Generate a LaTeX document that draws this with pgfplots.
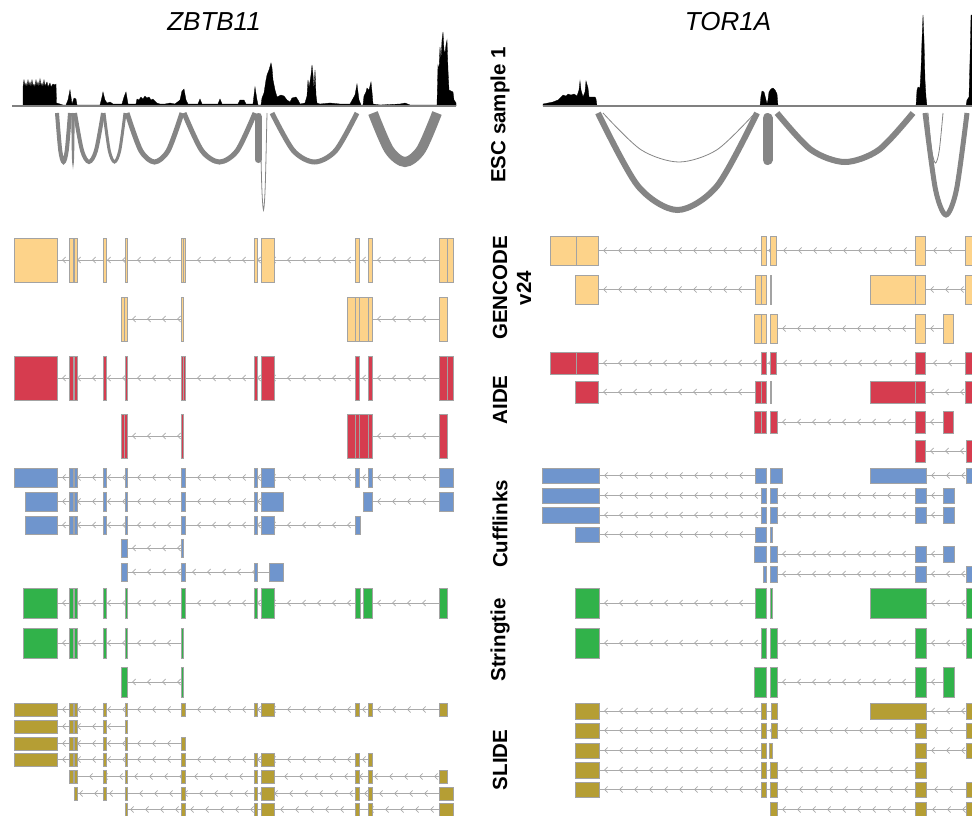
\documentclass[border=0pt]{standalone}
\usepackage{fontspec}
\setmainfont{Liberation Sans}
\usepackage{pgfplots}
\pgfplotsset{compat=1.18}
\usetikzlibrary{decorations.markings,arrows.meta}
\definecolor{gen}{HTML}{FDD38A}
\definecolor{aide}{HTML}{D63C4F}
\definecolor{cuff}{HTML}{6F95CD}
\definecolor{strg}{HTML}{31B24A}
\definecolor{slide}{HTML}{B59E34}
\definecolor{exb}{HTML}{A3A3A3}
\definecolor{intr}{HTML}{AAAAAA}
\definecolor{arcc}{HTML}{858585}
\tikzset{intronline/.style={draw=intr, line width=0.9pt, postaction={decorate},
  decoration={markings, mark=between positions 9pt and 1 step 15pt with {\arrow{Straight Barb[reversed,length=3pt,width=6pt,line width=0.8pt]}}}}}
\newcommand\rs[3]{\def\T{#1}\def\B{#2}\def\C{#3}\pgfmathsetmacro\M{(#1+#2)/2}}
\newcommand\xo[2]{\edef\tmp{\noexpand\addplot[fill=\C,draw=exb,line width=0.9pt] coordinates {(#1,\T) (#2,\T) (#2,\B) (#1,\B)} -- cycle;}\tmp}
\newcommand\il[2]{\edef\tmp{\noexpand\addplot[intronline] coordinates {(#1,\M) (#2,\M)};}\tmp}
\begin{document}
\begin{tikzpicture}
\begin{axis}[x=1pt,y=1pt,xmin=0,xmax=972,ymin=0,ymax=815,y dir=reverse,
  axis line style={draw=none},xtick=\empty,ytick=\empty,clip=true]
\addplot[draw=none] coordinates {(0,0) (972,815)};
% coverage left
\addplot[fill=black,draw=black,line width=0.3pt] coordinates {
(12,106) (23,106) (23,87) (24,80) (25,86) (26,83) (27,87) (28,80) (29,86) (30,82) (31,87) (32,80) (33,86) (34,84) (35,87) (36,80) (37,86) (38,82) (39,87) (40,79) (41,86) (42,83) (43,87) (44,80) (45,86) (47,82) (48,87) (50,83) (51,87) (53,84) (55,85) (56,84) (56.5,103) (60,104) (63,105) (66,105) (68,100) (70,90) (71,97) (72,104) (74,98) (76,99) (77,105) (100,105) (102,97) (103,92) (105,100) (107,103) (110,102) (113,104) (122,104) (124,97) (126,92) (128,104) (136,104) (137,99) (139,100) (141,97) (143,99) (145,96) (147,98) (149,97) (151,100) (153,99) (155,101) (157,103) (160,104) (165,104) (170,103) (175,104) (180,100) (182,91) (184,89) (186,100) (188,104) (198,104) (200,99) (202,104) (218,104) (220,99) (222,104) (238,104) (240,100) (244,100) (246,104) (253,104) (255,87) (257,100) (258,105) (261,105) (262,98) (264,93) (266,80) (267,75) (269,70) (271,63) (272,68) (273,80) (275,90) (277,97) (279,96) (281,95) (284,96) (287,100) (290,102) (292,98) (296,97) (298,100) (300,104) (305,103) (307,96) (308,80) (309,88) (311,75) (312,65) (313,75) (314,90) (315,70) (316,95) (317,103) (320,104) (330,103) (340,104) (350,104) (355,95) (357,84) (359,100) (361,105) (363,105) (364,96) (366,92) (367,88) (369,90) (371,82) (372,92) (373,104) (380,105) (400,104) (405,103) (410,105) (437,105) (438,65) (439,70) (440,47) (441,60) (442,40) (443,32) (444,50) (445,53) (446,45) (447,40) (448,70) (449,90) (451,91) (453,92) (454,100) (456,103) (456,106)} -- cycle;
% coverage right
\addplot[fill=black,draw=black,line width=0.3pt] coordinates {
(543,106) (543,104) (548,103) (553,102) (558,100) (561,97) (563,95) (566,96) (568,94) (571,95) (574,94) (577,96) (579,90) (580,81) (581,90) (583,97) (585,92) (586,81) (588,88) (589,97) (592,97) (595,97) (596,99) (597,106) (760,106) (761,96) (762,91) (764,92) (766,100) (767,104) (768,100) (769,92) (771,89) (773,88) (775,90) (777,94) (778,106) (916,106) (917,90) (918,87) (920,88) (921,70) (922,40) (923,15) (924,40) (925,80) (926,97) (927,106) (966,106) (967,100) (969,97) (970,60) (971,15) (975,15) (975,106)} -- cycle;
\addplot[draw=gray,line width=1.2pt] coordinates {(12,106) (456,106)};
\addplot[draw=gray,line width=1.2pt] coordinates {(543,106) (975,106)};
% arcs left
\addplot[arcc,line width=4pt,smooth] coordinates {(57,113) (60.25,150.5) (63.5,162) (66.75,150.5) (70,113)};
\addplot[arcc,line width=1.5pt,smooth] coordinates {(72,113) (72.5,150.5) (73,163) (73.5,150.5) (74,113)};
\addplot[arcc,line width=4pt,smooth] coordinates {(75,113) (82,150.5) (89,162) (96,150.5) (103,113)};
\addplot[arcc,line width=3pt,smooth] coordinates {(104,113) (109.25,150.5) (114.5,162) (119.75,150.5) (125,113)};
\addplot[arcc,line width=5pt,smooth] coordinates {(127,113) (140.75,150.5) (154.5,162) (168.25,150.5) (182,113)};
\addplot[arcc,line width=5pt,smooth] coordinates {(184,113) (201.75,150.5) (219.5,162) (237.25,150.5) (255,113)};
\addplot[arcc,line width=0.8pt,smooth] coordinates {(260,113) (261.75,185.75) (263.5,210) (265.25,185.75) (267,113)};
\addplot[arcc,line width=7pt,line cap=round] coordinates {(258,116.5) (258,159.5)};
\addplot[arcc,line width=5pt,smooth] coordinates {(272,113) (293.25,150.5) (314.5,162) (335.75,150.5) (357,113)};
\addplot[arcc,line width=10pt,smooth] coordinates {(373,113) (389,149.75) (405,162) (421,149.75) (437,113)};
% arcs right
\addplot[arcc,line width=6pt,smooth] coordinates {(598,113) (637.75,185.75) (677.5,210) (717.25,185.75) (757,113)};
\addplot[arcc,line width=0.8pt,smooth] coordinates {(603,113) (641,149.75) (679,162) (717,149.75) (755,113)};
\addplot[arcc,line width=10pt,line cap=round] coordinates {(767.5,118) (767.5,160)};
\addplot[arcc,line width=6pt,smooth] coordinates {(777,113) (811,149.75) (845,162) (879,149.75) (913,113)};
\addplot[arcc,line width=0.8pt,smooth] coordinates {(928,113) (931.75,150.5) (935.5,163) (939.25,150.5) (943,113)};
\addplot[arcc,line width=5pt,smooth] coordinates {(925,113) (935.5,189.5) (946,215) (956.5,189.5) (967,113)};
% ===== GENCODE left
\rs{238}{282}{gen}\il{57}{439}
\xo{14}{57}\xo{69}{73}\xo{74}{77}\xo{103}{106}\xo{125}{127}\xo{181}{183}\xo{183}{185}\xo{254}{257}\xo{261}{274}\xo{355}{359}\xo{368}{372}\xo{439}{447}\xo{447}{453}
\rs{297}{341}{gen}\il{127}{181}\il{372}{439}
\xo{121}{124}\xo{124}{127}\xo{181}{183}\xo{347}{355}\xo{355}{359}\xo{359}{368}\xo{368}{372}\xo{439}{447}
% AIDE left
\rs{356}{400}{aide}\il{57}{439}
\xo{14}{57}\xo{69}{73}\xo{74}{77}\xo{103}{106}\xo{125}{127}\xo{181}{183}\xo{183}{185}\xo{254}{257}\xo{261}{274}\xo{355}{359}\xo{368}{372}\xo{439}{447}\xo{447}{453}
\rs{414}{458}{aide}\il{127}{181}\il{372}{439}
\xo{121}{124}\xo{124}{127}\xo{181}{183}\xo{347}{355}\xo{355}{359}\xo{359}{368}\xo{368}{372}\xo{439}{447}
% GENCODE right
\rs{236}{265}{gen}\il{598}{965}
\xo{550}{576}\xo{576}{598}\xo{761}{766}\xo{770}{776}\xo{915}{925}\xo{965}{980}
\rs{275}{304}{gen}\il{598}{755}\il{925}{965}
\xo{575}{598}\xo{755}{761}\xo{761}{766}\xo{770}{771.5}\xo{870}{915}\xo{915}{925}\xo{965}{980}
\rs{314}{343}{gen}\il{777}{915}\il{925}{943}
\xo{754}{761}\xo{761}{766}\xo{770}{777}\xo{915}{925}\xo{943}{953}
% AIDE right
\rs{352}{374}{aide}\il{598}{965}
\xo{550}{576}\xo{576}{598}\xo{761}{766}\xo{770}{776}\xo{915}{925}\xo{965}{980}
\rs{381}{403}{aide}\il{598}{755}\il{925}{965}
\xo{575}{598}\xo{755}{761}\xo{761}{766}\xo{770}{771.5}\xo{870}{915}\xo{915}{925}\xo{965}{980}
\rs{411}{433}{aide}\il{777}{915}\il{925}{943}
\xo{754}{761}\xo{761}{766}\xo{770}{777}\xo{915}{925}\xo{943}{953}
\rs{440}{462}{aide}\il{925}{966}
\xo{915}{925}\xo{966}{980}
% ===== Cufflinks left
\rs{468}{487}{cuff}\il{57}{439}
\xo{14}{57}\xo{69}{73}\xo{74}{77}\xo{103}{106}\xo{125}{127}\xo{181}{185}\xo{254}{257}\xo{261}{274}\xo{355}{359}\xo{368}{372}\xo{439}{453}
\rs{492}{511}{cuff}\il{57}{261}\il{372}{439}
\xo{25}{57}\xo{69}{73}\xo{74}{77}\xo{103}{106}\xo{125}{127}\xo{181}{185}\xo{254}{257}\xo{261}{283}\xo{363}{372}\xo{439}{453}
\rs{516}{534}{cuff}\il{57}{355}
\xo{25}{57}\xo{69}{73}\xo{74}{77}\xo{103}{106}\xo{125}{127}\xo{181}{185}\xo{254}{257}\xo{261}{274}\xo{355}{360}
\rs{539}{557}{cuff}\il{127}{181}
\xo{121}{127}\xo{181}{183}
\rs{563}{581}{cuff}\il{127}{269}
\xo{121}{127}\xo{181}{185}\xo{254}{257}\xo{269}{283}
% Cufflinks right
\rs{468}{483}{cuff}\il{599}{755}\il{926}{966}
\xo{542}{599}\xo{755}{766}\xo{770}{782}\xo{870}{926}\xo{966}{980}
\rs{488}{503}{cuff}\il{599}{761}\il{777}{915}\il{926}{943}
\xo{542}{599}\xo{761}{766}\xo{770}{777}\xo{915}{926}\xo{943}{954}
\rs{507}{523}{cuff}\il{599}{761}\il{777}{915}\il{926}{943}
\xo{542}{599}\xo{761}{766}\xo{770}{777}\xo{915}{926}\xo{943}{954}
\rs{527}{542}{cuff}\il{599}{755}
\xo{575}{599}\xo{755}{766}\xo{770}{772}
\rs{546}{562}{cuff}\il{777}{915}\il{926}{943}
\xo{754}{766}\xo{770}{777}\xo{915}{926}\xo{943}{954}
\rs{566}{582}{cuff}\il{777}{915}\il{926}{966}
\xo{763}{766}\xo{770}{777}\xo{915}{926}\xo{966}{980}
% ===== Stringtie left
\rs{588}{618}{strg}\il{57}{439}
\xo{23}{57}\xo{69}{73}\xo{74}{77}\xo{103}{106}\xo{125}{127}\xo{181}{185}\xo{254}{257}\xo{261}{274}\xo{355}{360}\xo{363}{372}\xo{439}{447}
\rs{628}{658}{strg}\il{57}{181}
\xo{23}{57}\xo{69}{73}\xo{74}{77}\xo{103}{106}\xo{125}{127}\xo{181}{183}
\rs{667}{697}{strg}\il{127}{181}
\xo{121}{127}\xo{181}{183}
% Stringtie right
\rs{588}{618}{strg}\il{599}{755}\il{926}{966}
\xo{575}{599}\xo{755}{766}\xo{770}{772}\xo{870}{926}\xo{966}{980}
\rs{628}{658}{strg}\il{599}{761}\il{777}{915}\il{926}{966}
\xo{575}{599}\xo{761}{766}\xo{770}{777}\xo{915}{926}\xo{966}{980}
\rs{667}{697}{strg}\il{777}{915}\il{926}{943}
\xo{754}{766}\xo{770}{777}\xo{915}{926}\xo{943}{954}
% ===== SLIDE left
\rs{703}{716}{slide}\il{57}{439}
\xo{14}{57}\xo{69}{73}\xo{74}{77}\xo{103}{106}\xo{125}{127}\xo{181}{185}\xo{254}{257}\xo{261}{274}\xo{355}{359}\xo{368}{372}\xo{439}{447}
\rs{720}{733}{slide}\il{57}{125}
\xo{14}{57}\xo{69}{73}\xo{74}{77}\xo{103}{106}\xo{125}{127}
\rs{737}{750}{slide}\il{57}{181}
\xo{14}{57}\xo{69}{73}\xo{74}{77}\xo{103}{106}\xo{125}{127}\xo{181}{185}
\rs{753}{766}{slide}\il{57}{368}
\xo{14}{57}\xo{69}{73}\xo{74}{77}\xo{103}{106}\xo{125}{127}\xo{181}{185}\xo{254}{257}\xo{261}{274}\xo{355}{359}\xo{368}{372}
\rs{770}{783}{slide}\il{69}{439}
\xo{69}{73}\xo{74}{77}\xo{103}{106}\xo{125}{127}\xo{181}{185}\xo{254}{257}\xo{261}{274}\xo{355}{359}\xo{368}{372}\xo{439}{447}
\rs{787}{800}{slide}\il{74}{439}
\xo{74}{77}\xo{103}{106}\xo{125}{127}\xo{181}{185}\xo{254}{257}\xo{261}{274}\xo{355}{359}\xo{368}{372}\xo{439}{453}
\rs{803}{816}{slide}\il{125}{439}
\xo{125}{127}\xo{181}{185}\xo{254}{257}\xo{261}{274}\xo{355}{359}\xo{368}{372}\xo{439}{453}
% SLIDE right
\rs{703}{719}{slide}\il{599}{761}\il{766}{771}\il{926}{966}
\xo{575}{599}\xo{761}{766}\xo{771}{777}\xo{870}{926}\xo{966}{980}
\rs{723}{738}{slide}\il{599}{966}
\xo{575}{599}\xo{761}{766}\xo{771}{777}\xo{915}{926}\xo{966}{980}
\rs{743}{758}{slide}\il{599}{761}\il{926}{966}
\xo{575}{599}\xo{761}{766}\xo{769}{772}\xo{915}{926}\xo{966}{980}
\rs{762}{778}{slide}\il{599}{915}
\xo{575}{599}\xo{761}{766}\xo{770}{777}\xo{915}{926}
\rs{782}{797}{slide}\il{599}{966}
\xo{575}{599}\xo{761}{766}\xo{770}{777}\xo{915}{926}\xo{966}{980}
\rs{802}{817}{slide}\il{777}{966}
\xo{770}{777}\xo{915}{926}\xo{966}{980}
% labels
\node[font=\fontsize{26}{30}\selectfont\itshape] at (axis cs:214,22) {ZBTB11};
\node[font=\fontsize{26}{30}\selectfont\itshape] at (axis cs:728,22) {TOR1A};
\node[rotate=90,font=\fontsize{20.5}{24}\selectfont\bfseries] at (axis cs:500,115) {ESC sample 1};
\node[rotate=90,align=center,font=\fontsize{20.5}{24}\selectfont\bfseries] at (axis cs:512,288) {GENCODE\\v24};
\node[rotate=90,font=\fontsize{20.5}{24}\selectfont\bfseries] at (axis cs:500,400) {AIDE};
\node[rotate=90,font=\fontsize{20.5}{24}\selectfont\bfseries] at (axis cs:500,524) {Cufflinks};
\node[rotate=90,font=\fontsize{20.5}{24}\selectfont\bfseries] at (axis cs:500,640) {Stringtie};
\node[rotate=90,font=\fontsize{20.5}{24}\selectfont\bfseries] at (axis cs:500,760) {SLIDE};
\end{axis}
\end{tikzpicture}
\end{document}
